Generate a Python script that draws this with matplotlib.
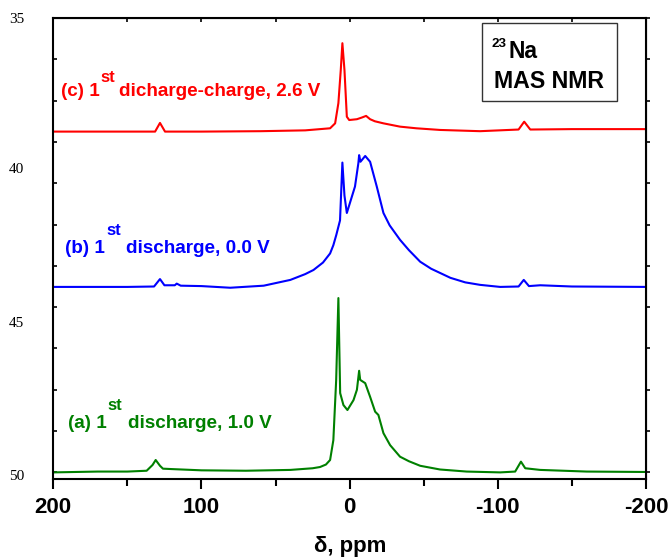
import matplotlib.pyplot as plt
from matplotlib.ticker import FixedLocator, NullFormatter

plt.rcParams.update({
    "font.family": "Liberation Sans",
    "font.weight": "bold",
})

ppm_a = [200, 170, 150, 137, 133, 130.9, 128, 126, 120, 100, 70, 40, 25, 20, 16,
         13.2, 11, 9.1, 7.6, 6.4, 4.2, 1.5, -2.6, -4.9, -6.4, -7.1, -10.5, -13.8,
         -17.2, -19.4, -22.8, -27.3, -34, -40, -47.6, -61, -79, -101.6, -111.7,
         -115.6, -118.5, -128.6, -160, -200]
int_a = [0.0, 0.02, 0.02, 0.04, 0.18, 0.30, 0.16, 0.09, 0.08, 0.05, 0.04, 0.06, 0.10,
         0.13, 0.19, 0.30, 0.78, 2.23, 4.22, 1.92, 1.63, 1.51, 1.75, 2.0, 2.46, 2.24,
         2.16, 1.83, 1.47, 1.39, 0.95, 0.66, 0.38, 0.27, 0.16, 0.07, 0.02, 0.0, 0.02,
         0.26, 0.1, 0.06, 0.02, 0.01]

ppm_b = [200, 150, 132, 128, 125, 118, 116.7, 114, 100, 80.6, 58, 40, 30, 24.4, 18,
         13.2, 11, 9, 6.5, 4.9, 3.5, 1.9, -3.6, -5.9, -6.4, -7.3, -10.5, -13.8,
         -18.3, -22.8, -27, -34, -40, -47.6, -55, -68, -78, -88, -101.6, -114,
         -117.5, -121, -128.6, -150, -200]
int_b = [4.49, 4.49, 4.50, 4.68, 4.53, 4.53, 4.57, 4.52, 4.51, 4.47, 4.52, 4.66, 4.80,
         4.90, 5.08, 5.30, 5.50, 5.75, 6.10, 7.50, 6.70, 6.28, 6.92, 7.49, 7.68, 7.52,
         7.66, 7.52, 6.92, 6.28, 5.98, 5.63, 5.38, 5.10, 4.93, 4.71, 4.60, 4.54, 4.49,
         4.50, 4.66, 4.51, 4.53, 4.50, 4.49]

ppm_c = [200, 150, 131.3, 128, 124.6, 100, 60, 30, 13.2, 9.8, 7.6, 6.0, 4.9, 3.5,
         1.9, 0.3, -4.9, -8.2, -11.1, -13.8, -17, -22.8, -34, -45, -61, -88, -114,
         -117.8, -121.9, -150, -200]
int_c = [8.25, 8.25, 8.25, 8.46, 8.25, 8.25, 8.26, 8.28, 8.33, 8.45, 8.94, 9.74, 10.39,
         9.74, 8.61, 8.53, 8.55, 8.59, 8.63, 8.55, 8.50, 8.45, 8.37, 8.33, 8.29, 8.26,
         8.30, 8.49, 8.30, 8.31, 8.31]

x_major = [200, 100, 0, -100, -200]
x_minor = [150, 50, -50, -150]
y_marks = list(range(0, 12))
y_label_pos = [11.0, 7.36, 3.64, -0.06]
y_labels = ["35", "40", "45", "50"]

W, H = 671, 559
fig = plt.figure(figsize=(W / 100, H / 100), dpi=100)
ax = fig.add_axes([53.3 / W, 1 - 479 / H, (646 - 53.3) / W, (479 - 18) / H])

ax.plot(ppm_a, int_a, color="#008000", lw=1.5)
ax.plot(ppm_b, int_b, color="#0000ff", lw=1.5)
ax.plot(ppm_c, int_c, color="#ff0000", lw=1.5)

ax.set_xlim(200, -200)
ax.set_ylim(-0.16, 11.0)

for s in ax.spines.values():
    s.set_linewidth(1.5)

# eje x inferior
ax.xaxis.set_major_locator(FixedLocator(x_major))
ax.xaxis.set_minor_locator(FixedLocator(x_minor))
ax.set_xticklabels([str(v) for v in x_major], fontsize=16, fontweight="bold")
ax.tick_params(axis="x", which="major", direction="out", length=7, width=1.5, pad=6)
ax.tick_params(axis="x", which="minor", direction="out", length=5, width=1.5)

# eje y: etiquetas sueltas (serif) y marcas pequeñas
ax.yaxis.set_major_locator(FixedLocator(y_label_pos))
ax.set_yticklabels(y_labels, fontsize=11, fontweight="normal", family="Liberation Serif")
ax.tick_params(axis="y", which="major", length=0, pad=21)
ax.yaxis.set_minor_locator(FixedLocator(y_marks))
ax.tick_params(axis="y", which="minor", direction="in", length=3, width=1.2)

top = ax.secondary_xaxis("top")
top.xaxis.set_major_locator(FixedLocator(x_major + x_minor))
top.xaxis.set_major_formatter(NullFormatter())
top.tick_params(direction="in", length=3, width=1.2)

right = ax.secondary_yaxis("right")
right.yaxis.set_major_locator(FixedLocator(y_marks))
right.yaxis.set_major_formatter(NullFormatter())
right.tick_params(direction="out", length=3, width=1.2)


def ftxt(x, y, s, ha="left", **kw):
    fig.text(x / W, 1 - y / H, s, va="baseline", ha=ha, fontweight="bold", **kw)


# título del eje x
ftxt(350, 552, "δ, ppm", ha="center", color="black", fontsize=16)

# etiquetas de las curvas
ftxt(61, 96, "(c) 1", color="#ff0000", fontsize=13.6)
ftxt(100, 82, "st", color="#ff0000", fontsize=12)
ftxt(119, 96, "dicharge-charge, 2.6 V", color="#ff0000", fontsize=13.6)

ftxt(65, 253, "(b) 1", color="#0000ff", fontsize=13.6)
ftxt(106.5, 235, "st", color="#0000ff", fontsize=12)
ftxt(126.5, 253, "discharge, 0.0 V", color="#0000ff", fontsize=13.6)

ftxt(68, 428, "(a) 1", color="#008000", fontsize=13.6)
ftxt(107.5, 410, "st", color="#008000", fontsize=12)
ftxt(128, 428, "discharge, 1.0 V", color="#008000", fontsize=13.6)

# recuadro 23Na MAS NMR
box = plt.Rectangle((481.7 / W, 1 - 100.7 / H), (616.7 - 481.7) / W, (100.7 - 22.7) / H,
                    transform=fig.transFigure, fill=False, ec="#333333", lw=1)
fig.add_artist(box)
ftxt(492, 47, "23", color="black", fontsize=9.7)
ftxt(509, 58, "Na", color="black", fontsize=16.5)
ftxt(494, 88, "MAS NMR", color="black", fontsize=16.7)

fig.savefig("out.png", dpi=100)
